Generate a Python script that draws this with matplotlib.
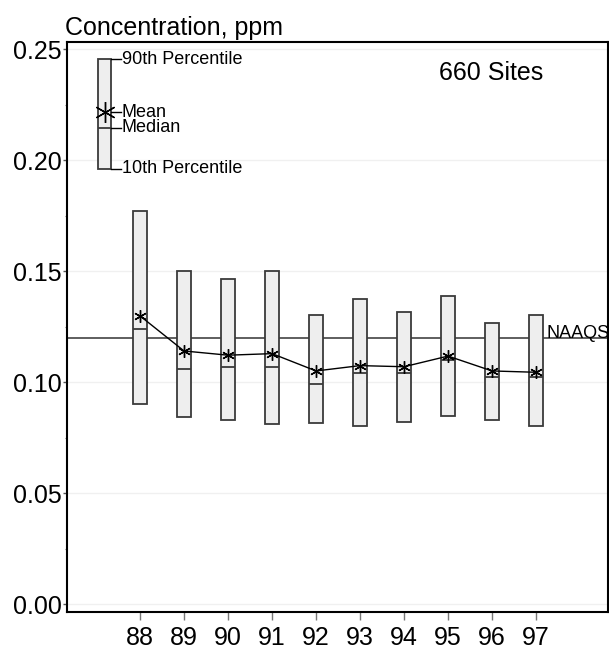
import matplotlib
matplotlib.use("Agg")
import matplotlib.pyplot as plt
import numpy as np

plt.rcParams['font.family'] = ['Liberation Sans', 'DejaVu Sans']

years = [88, 89, 90, 91, 92, 93, 94, 95, 96, 97]
p90 = [0.1773, 0.1500, 0.1464, 0.1500, 0.1305, 0.1374, 0.1315, 0.1389, 0.1269, 0.1305]
p10 = [0.0901, 0.0845, 0.0830, 0.0811, 0.0817, 0.0802, 0.0821, 0.0848, 0.0831, 0.0803]
median = [0.1239, 0.1060, 0.1069, 0.1069, 0.0991, 0.1041, 0.1041, 0.1100, 0.1025, 0.1025]
mean = [0.1299, 0.1141, 0.1122, 0.1129, 0.1051, 0.1075, 0.1070, 0.1118, 0.1051, 0.1045]
naaqs = 0.12

legend_x = 87.2
legend_vals = {"p90": 0.2456, "mean": 0.2216, "median": 0.2147, "p10": 0.1961}
legend_labels = {"p90": "90th Percentile", "mean": "Mean", "median": "Median", "p10": "10th Percentile"}

yticks = [0.00, 0.05, 0.10, 0.15, 0.20, 0.25]

fig = plt.figure(figsize=(6.09, 6.5), dpi=100)
ax = fig.add_axes([0.110, 0.0585, 0.888, 0.8765])

ax.set_xlim(86.34, 98.63)
ax.set_ylim(-0.0035, 0.2532)

for y in yticks:
    ax.axhline(y, color='#f0f0f0', lw=1, zorder=0)

ax.axhline(naaqs, color='#333333', lw=1.1, zorder=1)

w = 0.32
box_face = '#eeeeee'
box_edge = '#3a3a3a'
star = (6, 2, 0)
heights = [a - b for a, b in zip(p90, p10)]
ax.bar(years, heights, bottom=p10, width=w, facecolor=box_face, edgecolor=box_edge, linewidth=1.3, zorder=2)
ax.hlines(median, [x - w / 2 for x in years], [x + w / 2 for x in years], colors=box_edge, lw=1.3, zorder=3)
ax.plot(years, mean, color='black', lw=1.0, marker=star, markersize=9, markeredgewidth=1.0, zorder=4)

# legend glyph
lb = legend_vals
ax.bar([legend_x], [lb["p90"] - lb["p10"]], bottom=[lb["p10"]], width=0.29, facecolor=box_face,
       edgecolor=box_edge, linewidth=1.3, zorder=2)
ax.hlines([lb["median"]], legend_x - 0.145, legend_x + 0.145, colors=box_edge, lw=1.3, zorder=3)
ax.plot([legend_x], [lb["mean"]], marker=star, markersize=15, markeredgewidth=1.0, color='black', zorder=4)
for key in ["p90", "mean", "median", "p10"]:
    yv = lb[key]
    ax.plot([legend_x + 0.145, legend_x + 0.37], [yv, yv], color='black', lw=1.0, zorder=4)
    ax.text(legend_x + 0.39, yv, legend_labels[key], fontsize=13, va='center', ha='left')

ax.text(95.98, 0.2362, "660 Sites", fontsize=18, ha='center', va='baseline')
ax.text(97.23, naaqs, "NAAQS", fontsize=13, ha='left', va='baseline', clip_on=False)

ax.set_yticks(yticks)
ax.set_yticklabels([f"{v:.2f}" for v in yticks])
ax.set_yticks([0.025, 0.075, 0.125, 0.175, 0.225], minor=True)
ax.tick_params(axis='y', which='major', length=3, width=1, color='#555555', pad=1, labelsize=18)
ax.tick_params(axis='y', which='minor', length=1.5, width=0.8, color='#777777')
ax.set_xticks(years)
ax.set_xticklabels([str(y) for y in years])
ax.tick_params(axis='x', length=6, width=1, color='#777777', pad=4, labelsize=18)

for s in ax.spines.values():
    s.set_linewidth(1.5)
    s.set_color('black')

fig.text(65 / 609, 1 - 35 / 650, "Concentration, ppm", fontsize=18, ha='left', va='baseline')

fig.savefig("out.png", dpi=100)
